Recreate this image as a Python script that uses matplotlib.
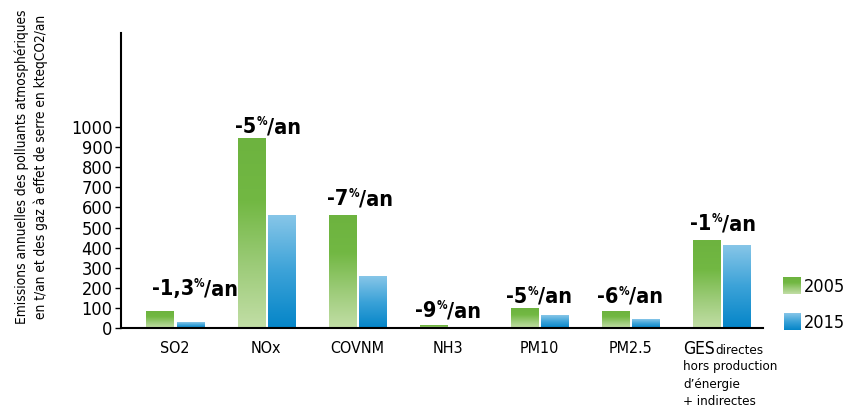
import matplotlib
matplotlib.use("Agg")
import matplotlib.pyplot as plt
import numpy as np
from matplotlib.colors import LinearSegmentedColormap

plt.rcParams['font.family'] = ['DejaVu Sans']
plt.rcParams['font.stretch'] = 'condensed'

# Emissions (t/an, ktCO2e/an for GES)
polluants = ["SO2", "NOx", "COVNM", "NH3", "PM10", "PM2.5", "GES"]
em_2005 = [80, 945, 562, 12, 96, 80, 433]
em_2015 = [27, 562, 254, 3, 60, 41, 408]
evolution = ["-1,3", "-5", "-7", "-9", "-5", "-6", "-1"]
# height of each growth label (data units)
label_y = [142, 948, 590, 33, 107, 107, 466]
label_dx = [0.22, 0.02, 0.03, 0.0, 0.0, 0.0, 0.02]

green = LinearSegmentedColormap.from_list("g", ["#c2dea6", "#9ccb78", "#72b843", "#6db33f"])
blue = LinearSegmentedColormap.from_list("b", ["#0485c8", "#3ba2d8", "#87c6e8"])

fig = plt.figure(figsize=(8.45, 4.07), dpi=100)
ax = fig.add_axes([0.1432, 0.194, 0.76, 0.725])

x = np.arange(len(polluants))
w = 0.297
off = 0.165
grad = np.linspace(0, 1, 256).reshape(-1, 1)

def gradient_bars(xs, vals, cmap):
    for xi, v in zip(xs, vals):
        ax.imshow(grad, cmap=cmap, origin="lower", aspect="auto",
                  extent=[xi - w / 2, xi + w / 2, 0, v], zorder=2)

gradient_bars(x - off, em_2005, green)
gradient_bars(x + off, em_2015, blue)

ax.set_xlim(-0.593, 6.46)
ax.set_ylim(0, 1468)

# "-5%/an" style labels: number, small raised %, then "/an"
labels = []
for xi, lab, ly, dx in zip(x, evolution, label_y, label_dx):
    t1 = ax.text(xi + dx, ly, lab, ha="left", va="bottom", fontsize=15.5, fontweight="bold")
    t2 = ax.annotate("%", xy=(1, 0.45), xycoords=t1, ha="left", va="bottom",
                     fontsize=8.5, fontweight="bold")
    t3 = ax.annotate("/an", xy=(1, 0), xycoords=(t2, t1), ha="left", va="bottom",
                     fontsize=15.5, fontweight="bold")
    labels.append((xi + dx, t1, t3))

ax.set_yticks(np.arange(0, 1001, 100))
ax.tick_params(axis="y", labelsize=13, length=4, width=1, direction="out", pad=2)
ax.set_xticks(x[:-1])
ax.set_xticklabels(polluants[:-1], fontsize=11.5)
ax.tick_params(axis="x", length=0, pad=9)

# GES label with its note
ax.text(x[-1] - 0.42, -128, "GES", fontsize=12.5, va="baseline", ha="left", clip_on=False)
ax.text(x[-1] - 0.06, -128, "directes", fontsize=9.5, va="baseline", ha="left", clip_on=False)
ax.text(x[-1] - 0.42, -160, "hors production\nd\u2019\u00e9nergie\n+ indirectes", fontsize=9.5,
        va="top", ha="left", linespacing=1.45, clip_on=False)

for s in ["top", "right"]:
    ax.spines[s].set_visible(False)
ax.spines["left"].set_linewidth(1.5)
ax.spines["bottom"].set_linewidth(1.5)

ax.set_ylabel("Emissions annuelles des polluants atmosphériques\n"
              "en t/an et des gaz à effet de serre en kteqCO2/an",
              fontsize=9.8, linespacing=1.45)
ax.yaxis.set_label_coords(-0.113, 0.545)

# legend squares
lax = fig.add_axes([0, 0, 1, 1], facecolor="none")
lax.axis("off")
lax.imshow(grad[::-1], cmap=green, origin="upper", aspect="auto", extent=[783, 801, 294, 277])
lax.imshow(grad[::-1], cmap=blue, origin="upper", aspect="auto", extent=[784, 801, 330, 313])
lax.text(804, 287, "2005", fontsize=13, va="center")
lax.text(804, 323, "2015", fontsize=13, va="center")
lax.set_xlim(0, 845)
lax.set_ylim(407, 0)

# centre each composite label on its group
fig.canvas.draw()
r = fig.canvas.get_renderer()
for cx, t1, t3 in labels:
    b1 = t1.get_window_extent(r)
    b3 = t3.get_window_extent(r)
    width = b3.x1 - b1.x0
    cx_px = ax.transData.transform((cx, 0))[0]
    new_x = ax.transData.inverted().transform((cx_px - width / 2, 0))[0]
    t1.set_x(new_x)

fig.savefig("out.png", dpi=100)
